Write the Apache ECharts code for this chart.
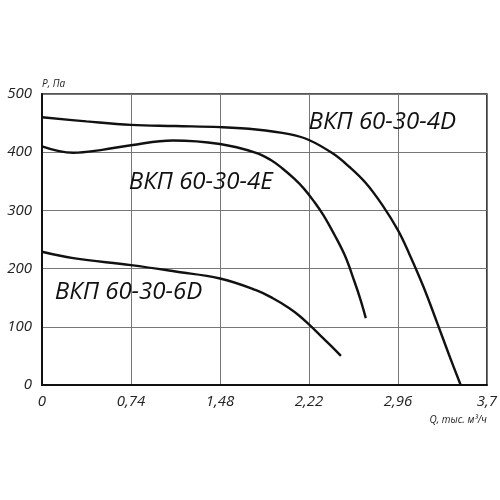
<!DOCTYPE html>
<html>
<head>
<meta charset="utf-8">
<script src="https://cdn.jsdelivr.net/npm/echarts@6/dist/echarts.min.js"></script>
<style>
html,body{margin:0;padding:0;background:#fff;}
#c{width:500px;height:500px;}
</style>
</head>
<body>
<div id="c"></div>
<script>
// Data
const xTicks = [0, 0.74, 1.48, 2.22, 2.96, 3.7];
const yTicks = [0, 100, 200, 300, 400, 500];

const names = ['ВКП 60-30-4D', 'ВКП 60-30-4E', 'ВКП 60-30-6D'];

const q4D = [0, 0.37, 0.74, 1.11, 1.48, 1.78, 2.057, 2.22, 2.417, 2.555, 2.693, 2.831, 2.96, 3.053, 3.17, 3.288, 3.385, 3.482];
const p4D = [460, 453, 447, 445, 443, 439, 431, 421, 398, 375, 347, 309, 266, 226, 170, 106, 52, 0];

const q4E = [0, 0.26, 0.5, 0.74, 1.09, 1.48, 1.78, 1.9, 2.0, 2.1, 2.18, 2.26, 2.34, 2.43, 2.52, 2.6, 2.65, 2.693];
const p4E = [410, 399, 404, 412, 420, 414, 399, 387, 372, 354, 337, 316, 292, 259, 222, 177, 146, 115];

const q6D = [0, 0.26, 0.74, 1.11, 1.48, 1.78, 1.92, 2.057, 2.14, 2.22, 2.306, 2.40, 2.486];
const p6D = [229, 218, 206, 195, 183, 163, 149, 132, 119, 104, 87, 68, 50];

// label anchor positions (data coordinates)
const labelAt = [[2.83, 452], [1.32, 349], [0.72, 160]];

const pair = (xs, ys) => xs.map((x, i) => [x, ys[i]]);
const fmt = v => String(Math.round(v * 100) / 100).replace('.', ',');
const FONT = "'Open Sans', 'Liberation Sans', sans-serif";

function mkSeries(name, xs, ys, la) {
  return {
    type: 'line',
    name: name,
    data: pair(xs, ys),
    smooth: 0.4,
    smoothMonotone: 'none',
    showSymbol: false,
    symbol: 'none',
    lineStyle: {color: '#111', width: 2.4},
    silent: true,
    markPoint: {
      symbol: 'circle',
      symbolSize: 1,
      itemStyle: {color: 'rgba(0,0,0,0)'},
      silent: true,
      data: [{coord: la, name: name}],
      label: {
        show: true,
        position: 'inside',
        formatter: name,
        fontFamily: FONT,
        fontStyle: 'italic',
        fontSize: 24,
        color: '#111'
      }
    }
  };
}

const chart = echarts.init(document.getElementById('c'), null, {renderer: 'canvas'});
chart.setOption({
  animation: false,
  backgroundColor: '#fff',
  grid: {left: 42, right: 12, top: 94, bottom: 115, show: true, borderColor: '#222', borderWidth: 1.5, backgroundColor: 'transparent'},
  xAxis: {
    type: 'value',
    min: xTicks[0],
    max: xTicks[xTicks.length - 1],
    interval: 0.74,
    name: 'Q, тыс. м³/ч',
    nameLocation: 'end',
    nameGap: 0,
    nameTextStyle: {fontFamily: FONT, fontStyle: 'italic', fontSize: 10, color: '#222', align: 'right', verticalAlign: 'top', padding: [30, 0, 0, 0]},
    axisLine: {show: true, onZero: false, lineStyle: {color: '#111', width: 2}},
    axisTick: {show: false},
    splitLine: {show: true, lineStyle: {color: '#777', width: 1}},
    axisLabel: {
      margin: 9,
      fontFamily: FONT, fontStyle: 'italic', fontSize: 15, color: '#222',
      formatter: fmt,
      showMaxLabel: true, showMinLabel: true
    }
  },
  yAxis: {
    type: 'value',
    min: yTicks[0],
    max: yTicks[yTicks.length - 1],
    interval: 100,
    name: 'P, Па',
    nameLocation: 'end',
    nameGap: 5,
    nameTextStyle: {fontFamily: FONT, fontStyle: 'italic', fontSize: 10, color: '#222', align: 'left'},
    axisLine: {show: true, onZero: false, lineStyle: {color: '#111', width: 2}},
    axisTick: {show: false},
    splitLine: {show: true, lineStyle: {color: '#777', width: 1}},
    axisLabel: {
      margin: 10,
      fontFamily: FONT, fontStyle: 'italic', fontSize: 15, color: '#222',
      formatter: v => String(v)
    }
  },
  series: [
    mkSeries(names[0], q4D, p4D, labelAt[0]),
    mkSeries(names[1], q4E, p4E, labelAt[1]),
    mkSeries(names[2], q6D, p6D, labelAt[2])
  ]
});
</script>
</body>
</html>
